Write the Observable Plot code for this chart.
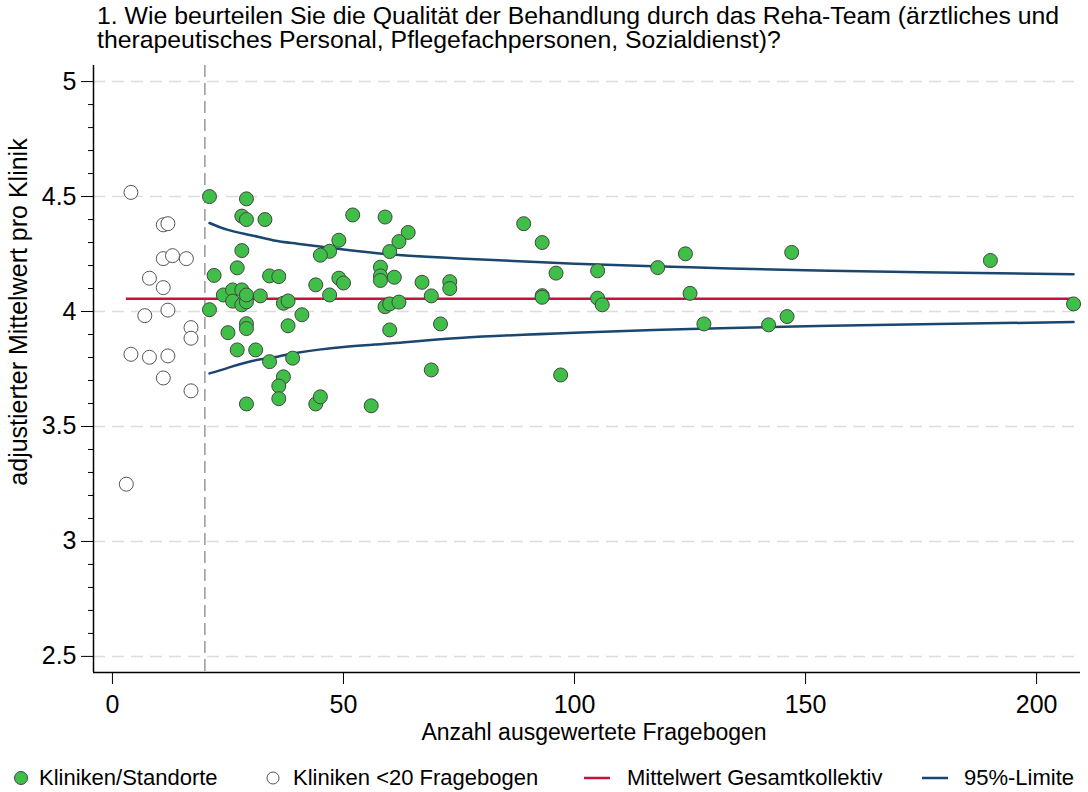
<!DOCTYPE html>
<html><head><meta charset="utf-8">
<script src="https://cdn.jsdelivr.net/npm/d3@7"></script>
<script src="https://cdn.jsdelivr.net/npm/@observablehq/plot@0.6"></script>
<style>
body{margin:0;background:#fff;font-family:"Liberation Sans",Arial,sans-serif;color:#000;}
#wrap{position:relative;width:1088px;height:792px;overflow:hidden;}
#title{position:absolute;left:97px;top:4px;font-size:24.8px;line-height:24px;white-space:nowrap;}
#chart{position:absolute;left:0;top:55px;}
.leg{position:absolute;top:765px;height:26px;display:flex;align-items:center;font-size:22px;white-space:nowrap;}
.leg svg{margin-right:10px;}
</style></head>
<body><div id="wrap">
<div id="title">1. Wie beurteilen Sie die Qualität der Behandlung durch das Reha-Team (ärztliches und<br>therapeutisches Personal, Pflegefachpersonen, Sozialdienst)?</div>
<div id="chart"></div>
<div class="leg" style="left:13px"><svg width="16" height="16"><circle cx="8" cy="8" r="6.5" fill="#3fbf48" stroke="#444" stroke-width="1"/></svg>Kliniken/Standorte</div>
<div class="leg" style="left:265px"><svg width="16" height="16" style="margin-right:12px"><circle cx="8" cy="8" r="6" fill="#fff" stroke="#555" stroke-width="1"/></svg>Kliniken &lt;20 Fragebogen</div>
<div class="leg" style="left:584px"><svg width="26" height="16" style="margin-right:17px"><line x1="0" x2="26" y1="8" y2="8" stroke="#c8103e" stroke-width="2.5"/></svg>Mittelwert Gesamtkollektiv</div>
<div class="leg" style="left:922px"><svg width="26" height="16" style="margin-right:16px"><line x1="0" x2="26" y1="8" y2="8" stroke="#1b4670" stroke-width="2.5"/></svg>95%-Limite</div>
</div>
<script>
// Kliniken/Standorte (>= 20 Fragebogen)
const clinicN = [21,29,28,29,33,52,49,47,45,28,27,22,34,36,44,49,50,47,24,26,26,28,28,29,29,32,37,38,41,21,29,29,38,25,27,31,34,39,37,36,36,29,44,45,59,64,62,60,89,93,58,58,58,61,67,73,73,69,59,60,62,96,105,93,93,105,106,71,60,69,97,56,118,124,147,190,125,208,128,142,146];
const clinicMean = [4.50,4.49,4.415,4.40,4.40,4.42,4.31,4.262,4.245,4.265,4.19,4.157,4.155,4.152,4.116,4.145,4.124,4.072,4.072,4.094,4.045,4.094,4.029,4.042,4.072,4.068,4.036,4.046,3.986,4.008,3.947,3.926,3.938,3.908,3.833,3.833,3.782,3.797,3.716,3.676,3.621,3.598,3.598,3.629,4.411,4.344,4.304,4.261,4.382,4.30,4.193,4.155,4.135,4.149,4.127,4.13,4.10,4.068,4.021,4.033,4.041,4.167,4.177,4.069,4.062,4.058,4.029,3.946,3.92,3.746,3.724,3.59,4.191,4.251,4.257,4.222,4.079,4.033,3.946,3.942,3.978];
// Kliniken <20 Fragebogen
const smallN = [4,11,12,11,13,16,8,11,7,12,17,17,4,8,12,11,17,3];
const smallMean = [4.518,4.377,4.382,4.23,4.243,4.23,4.145,4.104,3.982,4.006,3.93,3.884,3.814,3.801,3.807,3.711,3.655,3.249];
// Mittelwert Gesamtkollektiv
const overallMean = 4.055;
const meanFrom = 3, meanTo = 208;
// 95%-Limite
const limitN = [21,25,30,35,40,50,60,75,100,125,150,175,208];
const limitUpper = [4.385,4.355,4.332,4.309,4.295,4.270,4.249,4.231,4.208,4.192,4.180,4.171,4.162];
const limitLower = [3.731,3.755,3.784,3.801,3.821,3.846,3.861,3.885,3.908,3.924,3.936,3.945,3.954];
const cutoff = 20;
const yTicks = [2.5,3,3.5,4,4.5,5];
const yMinor = [2.6,2.7,2.8,2.9,3.1,3.2,3.3,3.4,3.6,3.7,3.8,3.9,4.1,4.2,4.3,4.4,4.6,4.7,4.8,4.9];
const xTicks = [0,50,100,150,200];

const clinics = clinicN.map((n,i)=>({n, m: clinicMean[i]}));
const small = smallN.map((n,i)=>({n, m: smallMean[i]}));
const limits = limitN.map((n,i)=>({n, up: limitUpper[i], lo: limitLower[i]}));

const xDom = [-4.1, 209.5], yDom = [2.43, 5.07];
const chart = Plot.plot({
  width: 1088, height: 695,
  marginLeft: 93, marginRight: 8, marginTop: 10, marginBottom: 78,
  style: {fontFamily: '"Liberation Sans", Arial, sans-serif', background: "#fff", overflow: "visible"},
  x: {domain: xDom},
  y: {domain: yDom},
  marks: [
    Plot.ruleY(yTicks, {stroke: "#dcdcdc", strokeWidth: 1.5, strokeDasharray: "12,7"}),
    Plot.ruleX([cutoff], {stroke: "#999", strokeWidth: 1.5, strokeDasharray: "12,6"}),
    Plot.ruleY([overallMean], {x1: meanFrom, x2: meanTo, stroke: "#c8103e", strokeWidth: 2.5}),
    Plot.line(limits, {x: "n", y: "up", stroke: "#1b4670", strokeWidth: 2.5, curve: "natural"}),
    Plot.line(limits, {x: "n", y: "lo", stroke: "#1b4670", strokeWidth: 2.5, curve: "natural"}),
    Plot.dot(small, {x: "n", y: "m", r: 7, fill: "#fff", stroke: "#555", strokeWidth: 1}),
    Plot.dot(clinics, {x: "n", y: "m", r: 7, fill: "#3fbf48", stroke: "#444", strokeWidth: 1}),
    Plot.axisY({ticks: yTicks, tickSize: 12, tickPadding: 5, fontSize: 25, tickFormat: d => String(d), label: null, stroke: "#000"}),
    Plot.axisY({ticks: yMinor, tickSize: 5, tickFormat: () => "", label: null, stroke: "#000"}),
    Plot.axisX({ticks: xTicks, tickSize: 12, tickPadding: 11, fontSize: 25, tickFormat: d => String(d), label: null, stroke: "#000"}),
    Plot.ruleX([xDom[0]], {stroke: "#000", strokeWidth: 1.5}),
    Plot.ruleY([yDom[0]], {stroke: "#000", strokeWidth: 1.5})
  ]
});
document.getElementById("chart").appendChild(chart);
const svg = d3.select(chart);
svg.append("text").attr("x", 594).attr("y", 685).attr("text-anchor","middle")
  .attr("font-size", 23).attr("fill","#000").text("Anzahl ausgewertete Fragebogen");
svg.append("text").attr("transform","translate(27,257) rotate(-90)").attr("text-anchor","middle")
  .attr("font-size", 25).attr("fill","#000").text("adjustierter Mittelwert pro Klinik");
</script>
</body></html>
